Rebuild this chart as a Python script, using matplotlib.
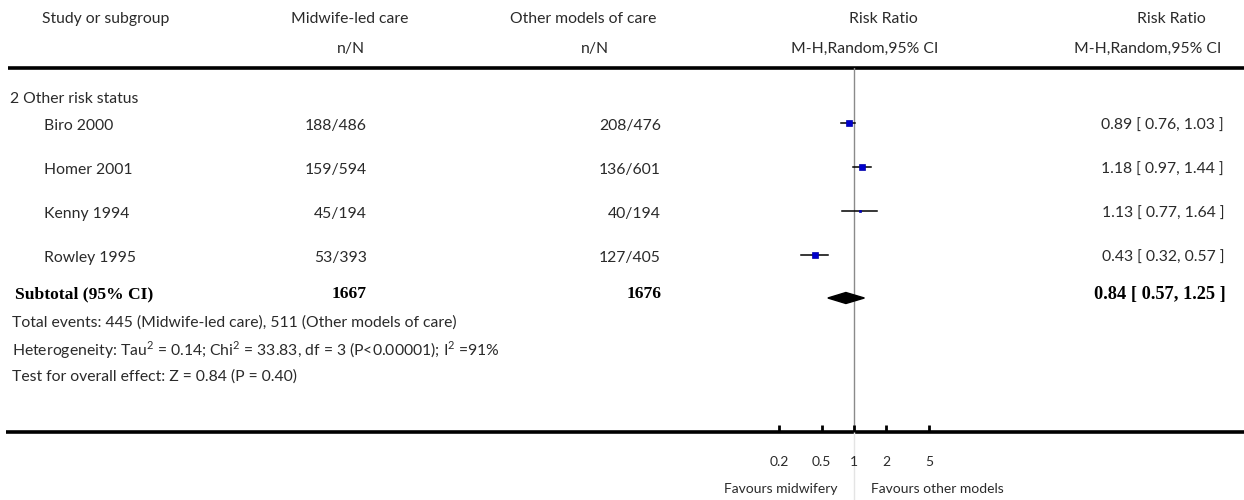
import matplotlib
matplotlib.use("Agg")
import matplotlib.pyplot as plt
from matplotlib.patches import Polygon
import math

# ---------------- data ----------------
studies = ["Biro 2000", "Homer 2001", "Kenny 1994", "Rowley 1995"]
midwife_nN = ["188/486", "159/594", "45/194", "53/393"]
other_nN = ["208/476", "136/601", "40/194", "127/405"]
rr = [0.89, 1.18, 1.13, 0.43]
ci_low = [0.76, 0.97, 0.77, 0.32]
ci_high = [1.03, 1.44, 1.64, 0.57]
weight_marker = [5.0, 4.3, 1.8, 4.3]   # marker size (points) ~ study weight
rr_text = ["0.89 [ 0.76, 1.03 ]", "1.18 [ 0.97, 1.44 ]",
           "1.13 [ 0.77, 1.64 ]", "0.43 [ 0.32, 0.57 ]"]
subgroup = "2 Other risk status"
sub_total_mid = "1667"
sub_total_oth = "1676"
sub_rr = 0.84
sub_low = 0.57
sub_high = 1.25
sub_text = "0.84 [ 0.57, 1.25 ]"
footer = ["Total events: 445 (Midwife-led care), 511 (Other models of care)",
          r"Heterogeneity: Tau$^2$ = 0.14; Chi$^2$ = 33.83, df = 3 (P<0.00001); I$^2$ =91%",
          "Test for overall effect: Z = 0.84 (P = 0.40)"]
ticks = [0.2, 0.5, 1, 2, 5]
tick_labels = ["0.2", "0.5", "1", "2", "5"]
fav_left = "Favours midwifery"
fav_right = "Favours other models"

# ---------------- layout ----------------
W, H = 1244, 500
fig = plt.figure(figsize=(W / 100, H / 100), dpi=100)
ax = fig.add_axes([0, 0, 1, 1])
ax.set_xlim(0, W)
ax.set_ylim(H, 0)
ax.axis("off")

plt.rcParams["mathtext.fontset"] = "custom"
plt.rcParams["mathtext.rm"] = "Lato"

sans = ["Lato", "DejaVu Sans"]
serif = ["Liberation Serif", "DejaVu Serif"]
tc = "#2a2a2a"
fs = 11.3
fsb = 12.6

def t(x, y, s, ha="left", bold=False, size=None):
    ax.text(x, y, s, ha=ha, va="center", color="black" if bold else tc,
            family=serif if bold else sans,
            fontweight="bold" if bold else "normal",
            fontsize=size if size else (fsb if bold else fs))

# headers
t(106, 19, "Study or subgroup", ha="center")
t(350, 19, "Midwife-led care", ha="center")
t(583, 19, "Other models of care", ha="center")
t(883, 19, "Risk Ratio", ha="center")
t(1171, 19, "Risk Ratio", ha="center")
t(351, 49, "n/N", ha="center")
t(595, 49, "n/N", ha="center")
t(865, 49, "M-H,Random,95% CI", ha="center")
t(1148, 49, "M-H,Random,95% CI", ha="center")

ax.plot([8, W], [68, 68], color="black", lw=2.6, solid_capstyle="butt")
ax.plot([6, W], [432, 432], color="black", lw=2.6, solid_capstyle="butt")

t(10, 99, subgroup)
row_y = [126, 170, 214, 258]
for i, y in enumerate(row_y):
    t(44, y, studies[i])
    t(367, y, midwife_nN[i], ha="right")
    t(661, y, other_nN[i], ha="right")
    t(1224, y, rr_text[i], ha="right")

sub_y = 294
t(15, sub_y, "Subtotal (95% CI)", bold=True)
t(367, sub_y, sub_total_mid, ha="right", bold=True)
t(662, sub_y, sub_total_oth, ha="right", bold=True)
t(1226, sub_y, sub_text, ha="right", bold=True, size=13.2)

for j, line in enumerate(footer):
    t(12, 323 + 27 * j, line)

# ---------------- forest axes ----------------
left_px, right_px = 730, 980
one_px = 854
ppl = 46.5  # pixels per natural-log unit
xa = math.exp((left_px - one_px) / ppl)
xb = math.exp((right_px - one_px) / ppl)
axf = fig.add_axes([left_px / W, (H - 432) / H, (right_px - left_px) / W, (432 - 68) / H])
axf.set_xscale("log")
axf.set_xlim(xa, xb)
axf.set_ylim(432, 68)
axf.patch.set_alpha(0)
for s in axf.spines.values():
    s.set_visible(False)
axf.set_yticks([])
axf.set_xticks(ticks)
axf.set_xticklabels(tick_labels, family=sans, fontsize=10, color=tc)
axf.xaxis.set_minor_locator(plt.NullLocator())
axf.tick_params(axis="x", direction="in", length=5, width=2, pad=17, colors="black",
                labelcolor=tc)

axf.axvline(1, color="#8a8a8a", lw=1, zorder=1)
axf.plot([1, 1], [432, 500], color="#e4e4e4", lw=1, clip_on=False, zorder=1)

for i, y in enumerate(row_y):
    yy = y - 3
    axf.plot([ci_low[i], ci_high[i]], [yy, yy], color="black", lw=1.1, zorder=3)
    axf.plot(rr[i], yy, marker="s", ms=weight_marker[i], color="#0000cc",
             mec="#0000aa", mew=0.5, zorder=4)

dy = 298
dh = 5.5
axf.add_patch(Polygon([(sub_low, dy), (sub_rr, dy - dh), (sub_high, dy), (sub_rr, dy + dh)],
                      closed=True, color="black", zorder=4))

axf.annotate(fav_left, xy=(1, 489), xytext=(-17, 0), textcoords="offset pixels",
             ha="right", va="center", family=sans, fontsize=10, color=tc,
             annotation_clip=False)
axf.annotate(fav_right, xy=(1, 489), xytext=(17, 0), textcoords="offset pixels",
             ha="left", va="center", family=sans, fontsize=10, color=tc,
             annotation_clip=False)

fig.savefig("out.png", dpi=100)
